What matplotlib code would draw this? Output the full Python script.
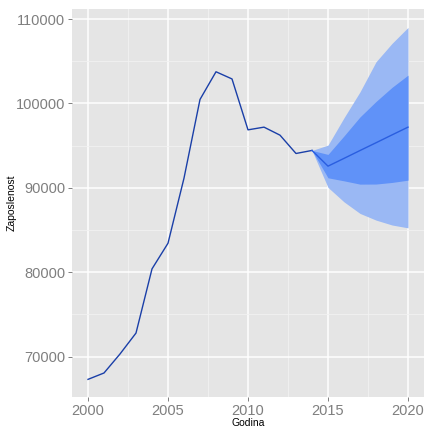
import matplotlib
matplotlib.use('Agg')
import matplotlib.pyplot as plt

plt.rcParams['font.family'] = ['Liberation Sans', 'DejaVu Sans']

years = list(range(2000, 2015))
employed = [67314, 68070, 70320, 72800, 80400, 83440, 91150, 100470,
            103750, 102900, 96870, 97190, 96240, 94070, 94430]

fc_years = [2014, 2015, 2016, 2017, 2018, 2019, 2020]
fc_mean = [94430, 92570, 93490, 94420, 95340, 96270, 97190]
lo80 = [94430, 91190, 90830, 90440, 90450, 90640, 90910]
hi80 = [94430, 93960, 96150, 98400, 100230, 101900, 103350]
lo95 = [94430, 90050, 88340, 86970, 86180, 85600, 85260]
hi95 = [94430, 95060, 98300, 101370, 104930, 107110, 109000]

fig = plt.figure(figsize=(4.24, 4.28), dpi=100)
ax = fig.add_axes([72 / 424, 31 / 428, 352 / 424, 388 / 428])
ax.set_facecolor('#E5E5E5')

ax.fill_between(fc_years, lo95, hi95, color='#9AB8F4', lw=0)
ax.fill_between(fc_years, lo80, hi80, color='#6092F8', lw=0)
ax.plot(years, employed, color='#1A3FA8', lw=1)
ax.plot(fc_years, fc_mean, color='#2A5EE0', lw=1)

ax.set_xlim(1999, 2021)
ax.set_ylim(65225, 111185)
ax.set_xticks([2000, 2005, 2010, 2015, 2020])
ax.set_xticks([2002.5, 2007.5, 2012.5, 2017.5], minor=True)
ax.set_yticks([70000, 80000, 90000, 100000, 110000])
ax.set_yticks([75000, 85000, 95000, 105000], minor=True)
ax.grid(True, which='major', color='white', lw=1.1)
ax.grid(True, which='minor', color='#F2F2F2', lw=0.6)
ax.set_axisbelow(True)
for s in ax.spines.values():
    s.set_visible(False)

ax.tick_params(which='major', length=3, width=0.5, color='#4D4D4D',
               labelsize=10.5, labelcolor='#7F7F7F', pad=2)
ax.tick_params(which='minor', length=0)

ax.set_xlabel('Godina', fontsize=7.5, labelpad=0)
fig.text(12 / 424, 1 - 203 / 428, 'Zaposlenost', fontsize=7.5,
         rotation=90, ha='center', va='center')

fig.savefig('out.png', dpi=100)
